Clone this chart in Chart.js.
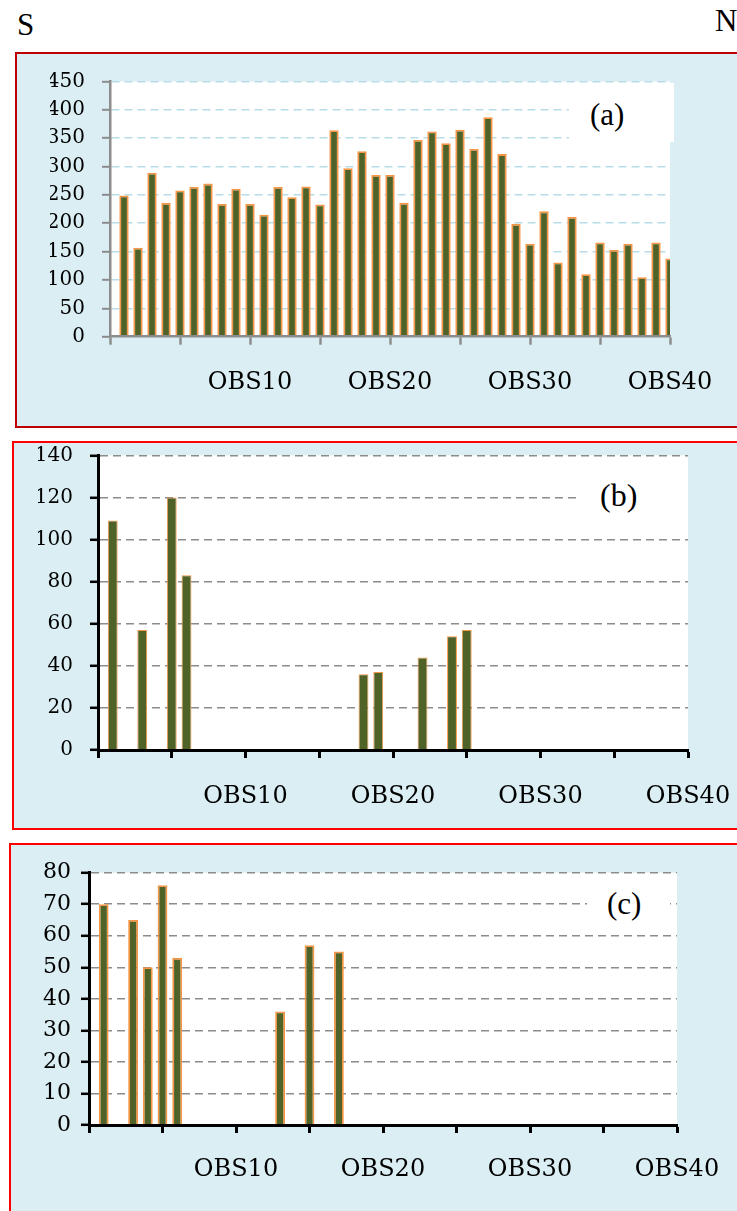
<!DOCTYPE html>
<html><head><meta charset="utf-8">
<script src="https://cdn.jsdelivr.net/npm/chart.js@4.4.0/dist/chart.umd.min.js"></script>
<style>
html,body{margin:0;padding:0;background:#fff;width:737px;height:1211px;overflow:hidden;position:relative;}
.panel{position:absolute;box-sizing:border-box;background:#DAEEF3;}
canvas{position:absolute;left:0;}
.lbl{position:absolute;font-family:"Liberation Serif","Times New Roman",serif;color:#000;white-space:nowrap;}
.tbox{position:absolute;background:#fff;}
</style></head><body>
<div class="lbl" style="left:17px;top:9px;font-size:31px;line-height:31px">S</div>
<div class="lbl" style="left:715px;top:5px;font-size:31px;line-height:31px">N</div>

<div class="panel" style="left:15px;top:52px;width:760px;height:376px;border:2.5px solid #C00000"></div>
<div class="panel" style="left:12px;top:440.5px;width:760px;height:389px;border:2px solid #FF0000"></div>
<div class="panel" style="left:9px;top:843px;width:760px;height:400px;border:2px solid #FF0000"></div>

<canvas id="ca" width="737" height="374" style="top:53px;width:737px;height:374px"></canvas>
<canvas id="cb" width="737" height="388" style="top:441px;width:737px;height:388px"></canvas>
<canvas id="cc" width="737" height="367" style="top:844px;width:737px;height:367px"></canvas>

<div class="tbox" style="left:569px;top:83px;width:105px;height:59px"></div>
<div class="lbl" style="left:590px;top:99px;font-size:31px;line-height:31px">(a)</div>
<div class="tbox" style="left:577px;top:462px;width:111px;height:72px"></div>
<div class="lbl" style="left:600px;top:479px;font-size:32px;line-height:32px">(b)</div>
<div class="tbox" style="left:587px;top:876px;width:83px;height:52px"></div>
<div class="lbl" style="left:607px;top:888px;font-size:31px;line-height:31px">(c)</div>

<script>
// Observation categories (OBS1..OBS40); axis starts one slot before OBS1
const obsLabels = ['OBS1','OBS2','OBS3','OBS4','OBS5','OBS6','OBS7','OBS8','OBS9','OBS10',
  'OBS11','OBS12','OBS13','OBS14','OBS15','OBS16','OBS17','OBS18','OBS19','OBS20',
  'OBS21','OBS22','OBS23','OBS24','OBS25','OBS26','OBS27','OBS28','OBS29','OBS30',
  'OBS31','OBS32','OBS33','OBS34','OBS35','OBS36','OBS37','OBS38','OBS39','OBS40'];

// Panel (a)
const seriesA = [249,157,289,236,258,264,270,234,261,234,
  215,264,246,265,233,364,297,327,285,285,
  236,347,362,341,365,331,387,322,199,164,
  221,131,211,110,166,153,164,105,166,138];

// Panel (b)
const seriesB = [109,null,57,null,120,83,null,null,null,null,
  null,null,null,null,null,null,null,36,37,null,
  null,44,null,54,57,null,null,null,null,null,
  null,null,null,null,null,null,null,null,null,null];

// Panel (c)
const seriesC = [70,null,65,50,76,53,null,null,null,null,
  null,null,36,null,57,null,55,null,null,null,
  null,null,null,null,null,null,null,null,null,null,
  null,null,null,null,null,null,null,null,null,null];

const axisCategories = [''].concat(obsLabels);

const plotBg = {
  id: 'plotBg',
  beforeDraw(chart) {
    const a = chart.chartArea, c = chart.ctx;
    c.save(); c.fillStyle = '#ffffff';
    c.fillRect(a.left, a.top, a.right - a.left, a.bottom - a.top);
    c.restore();
  }
};

function makeChart(id, values, o) {
  return new Chart(document.getElementById(id), {
    type: 'bar',
    data: {
      labels: axisCategories,
      datasets: [{
        data: [null].concat(values),
        backgroundColor: '#4F6228',
        borderColor: '#F79646',
        borderWidth: o.bw,
        barPercentage: 0.67,
        categoryPercentage: 1,
        clip: 0
      }]
    },
    options: {
      responsive: false,
      animation: false,
      devicePixelRatio: 1,
      layout: { padding: o.pad },
      plugins: { legend: { display: false }, tooltip: { enabled: false } },
      scales: {
        x: {
          type: 'category',
          offset: false,
          grid: {
            offset: false, drawOnChartArea: false, drawTicks: true,
            tickLength: 8, tickWidth: o.axisW,
            tickColor: (ctx) => (ctx.index % 5 === 0 ? o.axisColor : 'rgba(0,0,0,0)')
          },
          border: { color: o.axisColor, width: o.axisW, z: 1 },
          ticks: {
            autoSkip: false, maxRotation: 0, minRotation: 0,
            padding: o.xPad, color: '#000',
            font: { family: 'DejaVu Serif', size: 24 },
            callback: function (v, i) { return (i % 10 === 0 && i > 0) ? this.getLabelForValue(v) : ''; }
          },
          afterFit: (s) => { s.height = o.xH; s.paddingLeft = 0; s.paddingRight = 0; }
        },
        y: {
          min: 0, max: o.max,
          ticks: {
            stepSize: o.step, padding: o.yPad, color: '#000',
            font: { family: 'DejaVu Serif', size: o.yFont }
          },
          grid: {
            color: (ctx) => (ctx.tick && ctx.tick.value === 0 ? 'rgba(0,0,0,0)' : o.gridColor),
            lineWidth: 1.6,
            tickLength: 8, tickWidth: o.tickW, tickColor: o.axisColor, tickBorderDash: []
          },
          border: { dash: [8, 5], color: o.axisColor, width: o.axisW },
          afterFit: (s) => { s.width = 60; s.paddingTop = 0; s.paddingBottom = 0; }
        }
      }
    },
    plugins: [plotBg]
  });
}

makeChart('ca', seriesA, {
  bw: 1.8, axisColor: '#8C8C8C', axisW: 2.5, tickW: 2, gridColor: '#B7DDE8',
  max: 450, step: 50, yFont: 20, yPad: 17, xPad: 24, xH: 90.3,
  pad: { left: 50, right: 67, top: 28.5, bottom: 0 }
});
makeChart('cb', seriesB, {
  bw: 1, axisColor: '#000000', axisW: 3, tickW: 2.5, gridColor: '#8C8C8C',
  max: 140, step: 20, yFont: 20, yPad: 17, xPad: 24, xH: 79,
  pad: { left: 38, right: 49, top: 14.3, bottom: 0 }
});
makeChart('cc', seriesC, {
  bw: 1.8, axisColor: '#000000', axisW: 3, tickW: 2.5, gridColor: '#8C8C8C',
  max: 80, step: 10, yFont: 22, yPad: 10, xPad: 22, xH: 86,
  pad: { left: 29, right: 60, top: 28.7, bottom: 0 }
});
</script>
</body></html>
